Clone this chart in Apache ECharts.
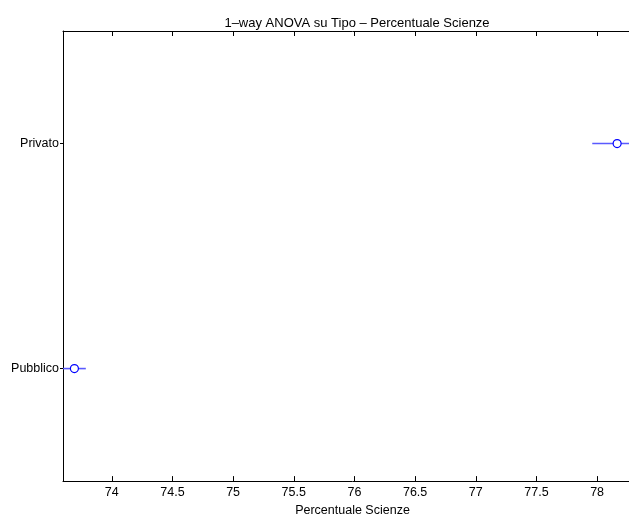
<!DOCTYPE html>
<html>
<head>
<meta charset="utf-8">
<script src="https://cdn.jsdelivr.net/npm/echarts@6/dist/echarts.min.js"></script>
<style>html,body{margin:0;padding:0;background:#fff;overflow:hidden;width:629px;height:522px}#c{width:642px;height:522px}</style>
</head>
<body>
<div id="c"></div>
<script>
const groups = ['Pubblico', 'Privato'];
const means = [73.692, 78.165];
const lower = [73.598, 77.960];
const upper = [73.786, 78.370];
const xTicks = [74, 74.5, 75, 75.5, 76, 76.5, 77, 77.5, 78];
const titleText = '1\u2013way ANOVA su Tipo \u2013 Percentuale Scienze';
const xName = 'Percentuale Scienze';

const FONT = 'Liberation Sans, Arial, Helvetica, sans-serif';
const chart = echarts.init(document.getElementById('c'), null, {renderer: 'canvas'});
const xmin = Math.min.apply(null, lower);
const xmax = Math.max.apply(null, upper);
const data = groups.map((g, i) => [means[i], i, lower[i], upper[i]]);

const xBase = {
  type: 'value', min: xmin, max: xmax,
  splitLine: {show: false},
  axisLine: {show: true, onZero: false, lineStyle: {color: '#000', width: 1}},
  axisTick: {show: true, inside: true, length: 5, customValues: xTicks, lineStyle: {color: '#000'}},
};

chart.setOption({
  backgroundColor: '#fff',
  animation: false,
  title: {
    text: titleText, left: 352, top: 12, textAlign: 'center',
    textStyle: {fontFamily: FONT, fontSize: 13, fontWeight: 'normal', color: '#000'}
  },
  grid: {left: 63, right: 0, top: 31, bottom: 35, containLabel: false},
  xAxis: [
    Object.assign({}, xBase, {
      position: 'bottom',
      name: xName, nameLocation: 'middle', nameGap: 17,
      nameTextStyle: {fontFamily: FONT, fontSize: 12.5, color: '#000'},
      axisLabel: {show: true, customValues: xTicks, margin: 5, fontFamily: FONT, fontSize: 12.5, color: '#000'}
    }),
    Object.assign({}, xBase, {position: 'top', axisLabel: {show: false}})
  ],
  yAxis: {
    type: 'category', data: groups,
    axisLine: {show: true, lineStyle: {color: '#000', width: 1}},
    axisTick: {show: true, inside: false, length: 3, alignWithLabel: true, lineStyle: {color: '#000'}},
    axisLabel: {margin: 4, fontFamily: FONT, fontSize: 12.5, color: '#000'},
    splitLine: {show: false}
  },
  series: [{
    type: 'custom',
    xAxisIndex: 0,
    clip: true,
    data: data,
    encode: {x: [0, 2, 3], y: 1},
    renderItem: function (params, api) {
      const y = api.value(1);
      const pm = api.coord([api.value(0), y]);
      const pl = api.coord([api.value(2), y]);
      const ph = api.coord([api.value(3), y]);
      return {
        type: 'group',
        children: [
          {type: 'line', shape: {x1: pl[0], y1: pm[1], x2: ph[0], y2: pm[1]},
           style: {stroke: '#5a5aff', lineWidth: 1.6}},
          {type: 'circle', shape: {cx: pm[0], cy: pm[1], r: 4},
           style: {stroke: '#0000ff', fill: '#ffffff', lineWidth: 1.2}}
        ]
      };
    }
  }]
});
</script>
</body>
</html>
